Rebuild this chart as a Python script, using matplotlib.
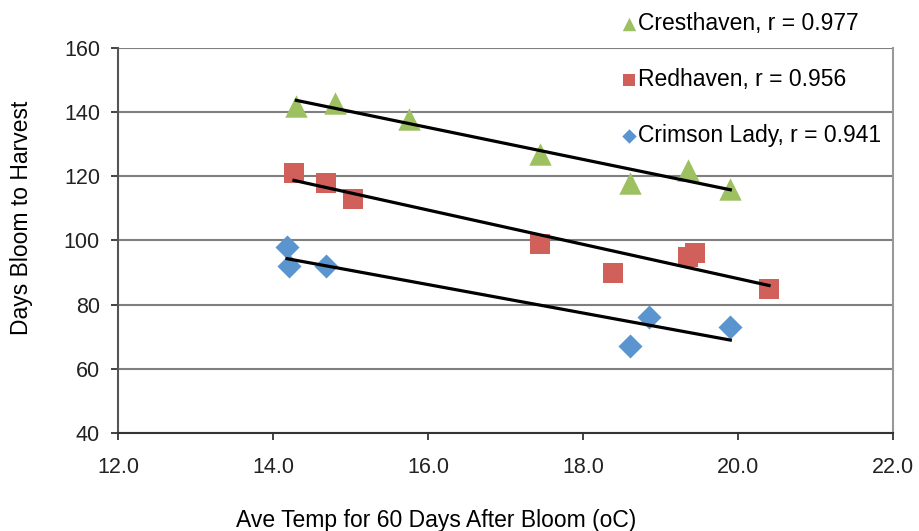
import numpy as np
import matplotlib.pyplot as plt

plt.rcParams['font.family'] = ['Liberation Sans', 'DejaVu Sans']

# data
cres_x = [14.3, 14.8, 15.75, 17.45, 18.6, 19.35, 19.9]
cres_y = [142, 143, 138, 127, 118, 122, 116]
red_x = [14.27, 14.68, 15.03, 17.45, 18.39, 19.35, 19.45, 20.4]
red_y = [121, 118, 113, 99, 90, 95, 96, 85]
crim_x = [14.18, 14.2, 14.68, 18.6, 18.85, 19.9]
crim_y = [98, 92, 92, 67, 76, 73]

labels = ["Cresthaven, r = 0.977", "Redhaven, r = 0.956", "Crimson Lady, r = 0.941"]
colors = ["#9DC060", "#D15F5A", "#5B95CF"]
markers = ["^", "s", "D"]
sizes = [260, 200, 150]

fig = plt.figure(figsize=(9.2, 5.31), dpi=100)
ax = fig.add_axes([0.1283, 0.1846, 0.8424, 0.725])

series = [(cres_x, cres_y), (red_x, red_y), (crim_x, crim_y)]
handles = []
for (xs, ys), c, m, s, lab in zip(series, colors, markers, sizes, labels):
    h = ax.scatter(xs, ys, marker=m, s=s, color=c, linewidths=0, zorder=3, label=lab)
    handles.append(h)
    # linear trend line
    k, b = np.polyfit(xs, ys, 1)
    xx = np.array([min(xs), max(xs)])
    ax.plot(xx, k * xx + b, color="black", lw=2.3, zorder=4)

ax.set_xlim(12, 22)
ax.set_ylim(40, 160)
ax.set_xticks(np.arange(12, 22.1, 2))
ax.set_xticklabels(["%.1f" % v for v in np.arange(12, 22.1, 2)])
ax.set_yticks(range(40, 161, 20))
ax.yaxis.grid(True, color="#7f7f7f", lw=1.5)
ax.set_axisbelow(True)
ax.tick_params(labelsize=15.5, colors="#222222", length=5, width=1.2)
ax.tick_params(axis="x", pad=12)
ax.tick_params(axis="y", pad=8)
ax.spines["top"].set_visible(False)
ax.spines["right"].set_color("#999999")
ax.spines["right"].set_linewidth(1.5)
ax.spines["left"].set_color("#555555")
ax.spines["left"].set_linewidth(1.5)
ax.spines["bottom"].set_color("#333333")
ax.spines["bottom"].set_linewidth(1.5)

ax.set_ylabel("Days Bloom to Harvest", fontsize=16.5)
ax.set_xlabel("Ave Temp for 60 Days After Bloom (oC)", fontsize=16.5)
# labels sit off-centre in the original
ax.yaxis.set_label_coords(-0.11, 0.56)
ax.xaxis.set_label_coords(0.41, -0.197)

fig.legend(handles=handles, labels=labels, loc="upper left",
           bbox_to_anchor=(0.657, 1.008), frameon=False, fontsize=16.5,
           handlelength=0.7, handletextpad=0.05, labelspacing=1.45,
           markerscale=0.6, borderaxespad=0.3)

fig.savefig("out.png", dpi=100)
